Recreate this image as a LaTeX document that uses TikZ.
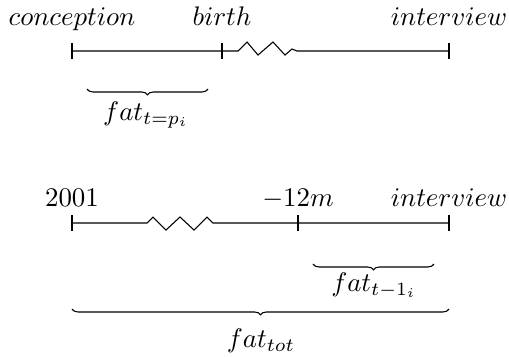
\documentclass[tikz,border=0pt]{standalone}
\usetikzlibrary{decorations.pathreplacing}
\begin{document}
\begin{tikzpicture}[x=0.372pt,y=-0.372pt,
  tl/.style={line width=0.4pt},
  lbl/.style={anchor=base,inner sep=0pt},
  brc/.style={decorate,decoration={brace,mirror,amplitude=2.2pt}}]
\useasboundingbox (0,0) rectangle (509,356);
% top timeline
\coordinate (a1) at (72,51);
\coordinate (a2) at (222,51);
\coordinate (a3) at (449,51);
\coordinate (z1) at (238,51);
\coordinate (z2) at (297,51);
\draw[tl] ([yshift=-8*0.372pt]a1) -- ([yshift=8*0.372pt]a1);
\draw[tl] ([yshift=-8*0.372pt]a2) -- ([yshift=8*0.372pt]a2);
\draw[tl] ([yshift=-8*0.372pt]a3) -- ([yshift=8*0.372pt]a3);
\draw[tl] (a1) -- (a2) -- (z1) -- (247,42) -- (258,55) -- (273,42) -- (285,55) -- (292,49) -- (z2) -- (a3);
\node[lbl] (c) at (72,25) {$conception$};
\node[lbl] (b) at (222,25) {$birth$};
\node[lbl] (i1) at (449,25) {$interview$};
% brace top
\coordinate (bt1) at (87,89);
\coordinate (bt2) at (208,89);
\draw[tl,brc] (bt1) -- (bt2);
\node[lbl] (f1) at (146,120) {$fat_{t=p_i}$};
% bottom timeline
\coordinate (d1) at (72,223);
\coordinate (d2) at (298,223);
\coordinate (d3) at (449,223);
\draw[tl] ([yshift=-8*0.372pt]d1) -- ([yshift=8*0.372pt]d1);
\draw[tl] ([yshift=-8*0.372pt]d2) -- ([yshift=8*0.372pt]d2);
\draw[tl] ([yshift=-8*0.372pt]d3) -- ([yshift=8*0.372pt]d3);
\draw[tl] (d1) -- (147,223) -- (153,217) -- (166,230) -- (180,217) -- (194,230) -- (207,217) -- (213,223) -- (d2) -- (d3);
\node[lbl] (y) at (72,206) {$2001$};
\node[lbl] (m) at (298,206) {$-12m$};
\node[lbl] (i2) at (449,206) {$interview$};
% braces bottom
\coordinate (bs1) at (313,264);
\coordinate (bs2) at (434,264);
\draw[tl,brc] (bs1) -- (bs2);
\node[lbl] (f2) at (374,291) {$fat_{t-1_i}$};
\coordinate (bb1) at (72,309);
\coordinate (bb2) at (449,309);
\draw[tl,brc] (bb1) -- (bb2);
\node[lbl] (f3) at (261,347) {$fat_{tot}$};
\end{tikzpicture}
\end{document}
